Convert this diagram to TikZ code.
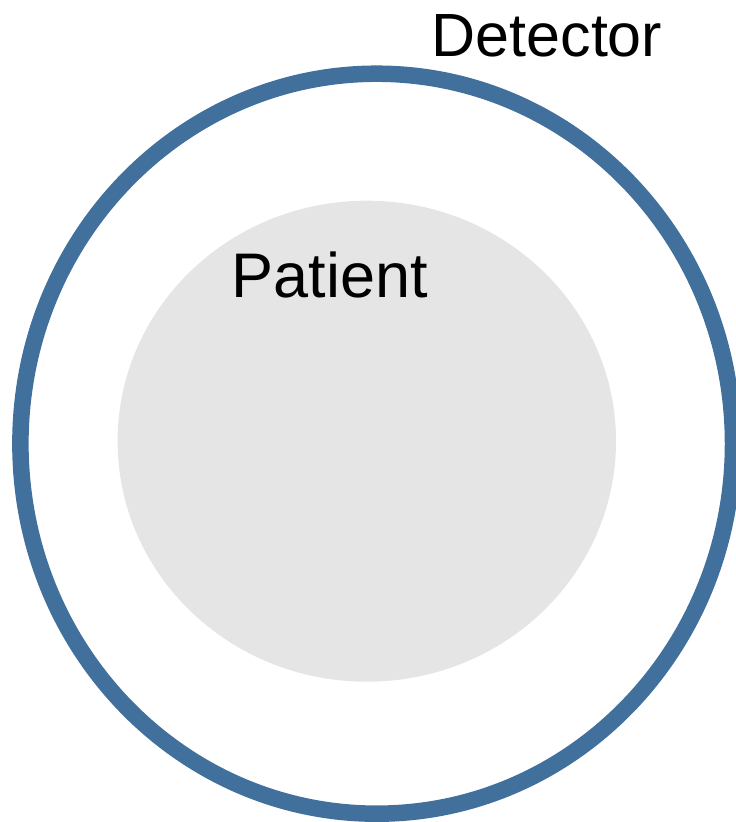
\documentclass[tikz,border=0pt]{standalone}
\usepackage{fontspec}
\setmainfont{Liberation Sans}
\definecolor{ringblue}{HTML}{41709C}
\definecolor{bodygray}{HTML}{E5E5E5}
\begin{document}
\begin{tikzpicture}[x=1pt,y=-1pt,
  label text/.style={anchor=base west,inner sep=0pt}]
\useasboundingbox (0,0) rectangle (736,822);
% patient cross-section
\fill[bodygray] (366.8,441.2) ellipse [x radius=249.2, y radius=240.5];
% detector ring
\draw[ringblue,line width=16.5pt] (376.7,443.7) ellipse [x radius=356.3, y radius=370];
% labels
\node[label text,font=\fontsize{61}{72}\selectfont] (detector) at (431.5,56) {Detector};
\node[label text,font=\fontsize{63}{74}\selectfont] (patient) at (231.5,297) {Patient};
\end{tikzpicture}
\end{document}
